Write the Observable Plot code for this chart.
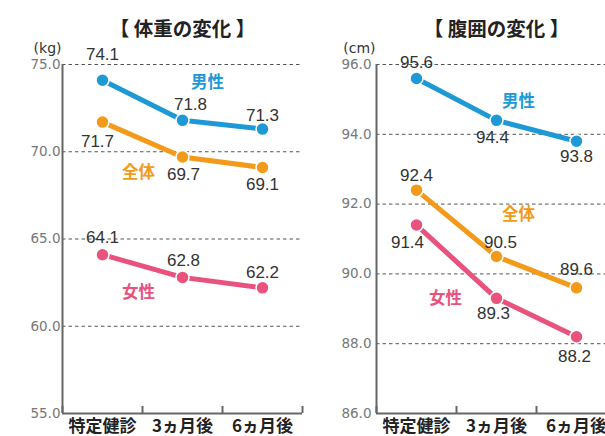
<!DOCTYPE html>
<html><head><meta charset="utf-8">
<script src="https://cdn.jsdelivr.net/npm/d3@7"></script>
<script src="https://cdn.jsdelivr.net/npm/@observablehq/plot@0.6"></script>
<style>
html,body{margin:0;padding:0;background:#fff;width:605px;height:436px;overflow:hidden}
#wrap{display:flex;width:616px;height:436px}
#wrap svg{display:block;flex:none}
</style></head><body><div id="wrap"></div>
<script>
// ---- data ----
const categories = ["特定健診", "3ヵ月後", "6ヵ月後"];
const seriesNames = ["男性", "全体", "女性"];
const weightMale = [74.1, 71.8, 71.3];
const weightAll = [71.7, 69.7, 69.1];
const weightFemale = [64.1, 62.8, 62.2];
const waistMale = [95.6, 94.4, 93.8];
const waistAll = [92.4, 90.5, 89.6];
const waistFemale = [91.4, 89.3, 88.2];
const weightTicks = [55, 60, 65, 70, 75];
const waistTicks = [86, 88, 90, 92, 94, 96];
const titles = ["【 体重の変化 】", "【 腹囲の変化 】"];
const units = ["(kg)", "(cm)"];

// ---- styling / layout ----
const colors = {"男性": "#1d9ad6", "全体": "#f39a1b", "女性": "#e8527c"};
const weightLabelOffsets = {"男性": [[0,-26],[8,-16],[0,-14]], "全体": [[-5,19],[1,18],[0,17]], "女性": [[0,-17],[1,-17],[0,-15]]};
const weightSeriesLabel = {"男性": [25,-38], "全体": [-44,16], "女性": [-44,15]};
const waistLabelOffsets = {"男性": [[0,-16],[-4,17],[0,15]], "全体": [[0,-15],[4,-14],[0,-18]], "女性": [[-9,18],[-3,15],[-2,20]]};
const waistSeriesLabel = {"男性": [22,-19], "全体": [22,-42], "女性": [-51,0]};

function rows(arrs) {
  const out = [];
  seriesNames.forEach((s, k) => arrs[k].forEach((v, i) => out.push({series: s, i, cat: categories[i], value: v})));
  return out;
}

function panel({width, marginLeft, marginRight, ticks, data, title, unit, labelOffsets, seriesLabel, tickPadding}) {
  const lo = ticks[0], hi = ticks[ticks.length - 1];
  const X = d => d.i + 0.5;
  const marks = [
    Plot.ruleY(ticks.slice(1), {stroke: "#555", strokeWidth: 1, strokeDasharray: "3.5,3"}),
    Plot.ruleY([lo], {stroke: "#666", strokeWidth: 2}),
    Plot.ruleX([0], {stroke: "#666", strokeWidth: 2}),
    Plot.axisY({ticks, label: null, tickSize: 0, tickPadding, tickFormat: d3.format(".1f"), fill: "#777", fontSize: 13.5, fontFamily: "DejaVu Sans", letterSpacing: "-0.3px"}),
    Plot.axisX({ticks: d3.range(categories.length + 1), label: null, tickSize: -7, tickFormat: () => "", stroke: "#666", strokeWidth: 2}),
    Plot.axisX({ticks: categories.map((c, i) => i + 0.5), label: null, tickSize: 0, tickPadding: 6, tickFormat: d => categories[Math.floor(d)], fill: "#222", fontSize: 17, fontWeight: "bold", fontFamily: "Noto Sans CJK JP"}),
    Plot.line(data, {x: X, y: "value", z: "series", stroke: d => colors[d.series], strokeWidth: 5}),
    Plot.dot(data, {x: X, y: "value", r: 6.5, fill: d => colors[d.series], stroke: "white", strokeWidth: 1.5}),
    ...data.map(d => Plot.text([d], {x: X, y: "value", text: d => d.value.toFixed(1), dx: labelOffsets[d.series][d.i][0], dy: labelOffsets[d.series][d.i][1], fill: "#333", fontSize: 17, fontFamily: "Liberation Sans"})),
    ...seriesNames.map(s => Plot.text(data.filter(d => d.series === s && d.i === 1), {x: X, y: "value", text: "series", dx: seriesLabel[s][0], dy: seriesLabel[s][1], fill: colors[s], fontSize: 16.5, fontWeight: "bold", fontFamily: "Noto Sans CJK JP"})),
    Plot.text([title], {frameAnchor: "top", dy: -42, fill: "#222", fontSize: 19.5, fontWeight: "bold", fontFamily: "Noto Sans CJK JP"}),
    Plot.text([unit], {frameAnchor: "top-left", textAnchor: "end", dx: -1, dy: -21, fill: "#333", fontSize: 14, fontFamily: "DejaVu Sans"})
  ];
  return Plot.plot({
    width, height: 436, marginLeft, marginRight, marginTop: 64, marginBottom: 23,
    x: {type: "linear", domain: [0, categories.length], axis: null},
    y: {domain: [lo, hi], axis: null},
    style: {background: "white", overflow: "visible"},
    marks
  });
}

const wrap = document.getElementById("wrap");
wrap.append(panel({width: 310, marginLeft: 62, marginRight: 8, ticks: weightTicks, data: rows([weightMale, weightAll, weightFemale]), title: titles[0], unit: units[0], labelOffsets: weightLabelOffsets, seriesLabel: weightSeriesLabel, tickPadding: 2}));
wrap.append(panel({width: 306, marginLeft: 66, marginRight: 0, ticks: waistTicks, data: rows([waistMale, waistAll, waistFemale]), title: titles[1], unit: units[1], labelOffsets: waistLabelOffsets, seriesLabel: waistSeriesLabel, tickPadding: 5}));
</script></body></html>
